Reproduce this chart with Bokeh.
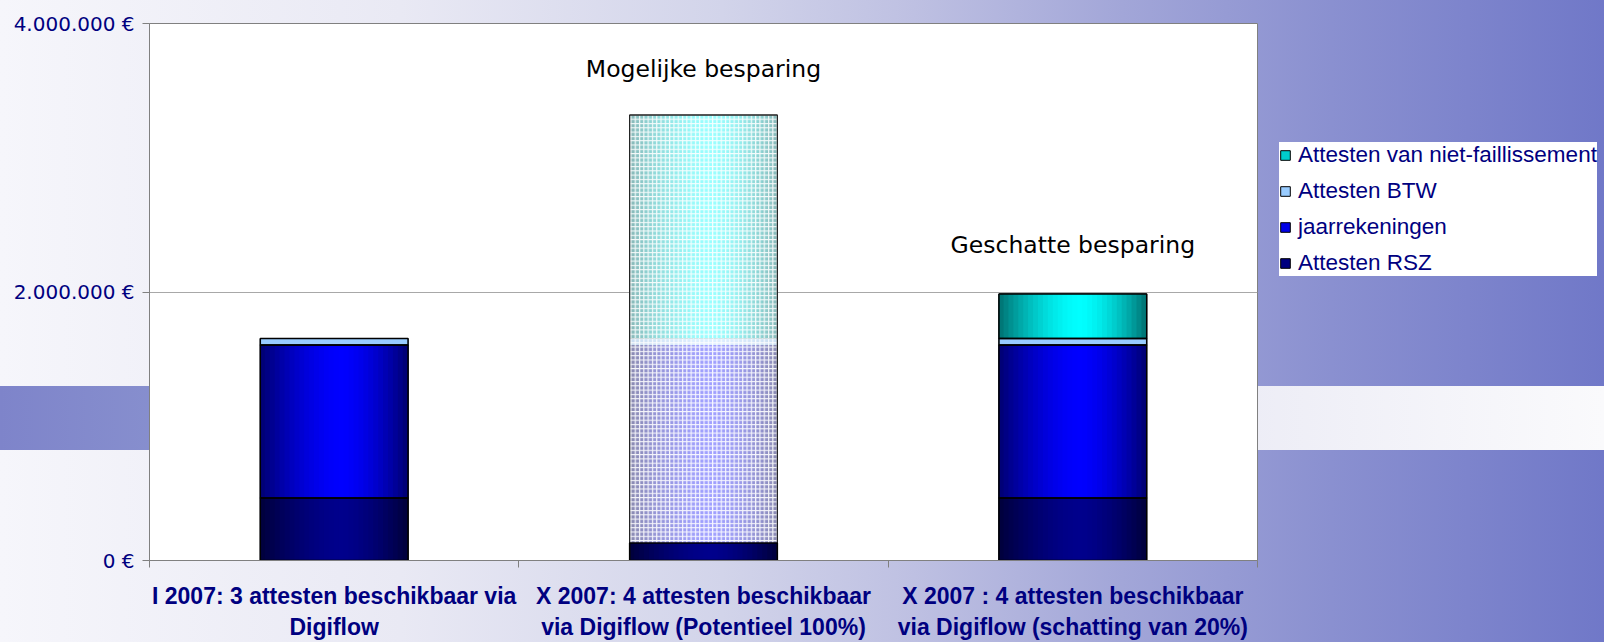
import numpy as np
from bokeh.plotting import figure
from bokeh.layouts import row
from bokeh.models import (ColumnDataSource, FactorRange, Range1d, LinearAxis, CategoricalAxis,
                          FixedTicker, Legend, LegendItem)
from bokeh.core.properties import value
from bokeh.embed import file_html
from bokeh.resources import INLINE

# ---------------- data ----------------
categories = [
    "I 2007: 3 attesten beschikbaar via\nDigiflow",
    "X 2007: 4 attesten beschikbaar\nvia Digiflow (Potentieel 100%)",
    "X 2007 : 4 attesten beschikbaar\nvia Digiflow (schatting van 20%)",
]
series_names = ["Attesten RSZ", "jaarrekeningen", "Attesten BTW", "Attesten van niet-faillissement"]
attesten_rsz = [465000, 130000, 465000]
jaarrekeningen = [1140000, 1475000, 1140000]
attesten_btw = [48000, 48000, 48000]
niet_faillissement = [0, 1665000, 333000]
potential_bar = [False, True, False]          # the hatched "potential" bar
y_ticks = [0, 2000000, 4000000]
y_tick_labels = ["0 €", "2.000.000 €", "4.000.000 €"]
annotation_texts = ["Mogelijke besparing", "Geschatte besparing"]
annotation_cats = [categories[1], categories[2]]
annotation_values = [3660000, 2350000]

series_values = [attesten_rsz, jaarrekeningen, attesten_btw, niet_faillissement]

# ---------------- styles ----------------
solid_style = {   # edge colour, centre colour, legend colour
    "Attesten RSZ": ("#00003A", "#00008C", "#000080"),
    "jaarrekeningen": ("#000070", "#0000FF", "#0000E6"),
    "Attesten BTW": ("#99CCFF", "#99CCFF", "#99CCFF"),
    "Attesten van niet-faillissement": ("#007070", "#00FFFF", "#00CCCC"),
}
pattern_style = {
    "Attesten RSZ": None,
    "jaarrekeningen": ("#8A8AB0", "#A0A0FF"),
    "Attesten BTW": ("#C8DCF0", "#DDEEFF"),
    "Attesten van niet-faillissement": ("#88B8B8", "#99FFFF"),
}
BAR_W = 0.4
N_STRIPS = 30


def hex2rgb(h):
    h = h.lstrip("#")
    return np.array([int(h[i:i + 2], 16) for i in (0, 2, 4)], dtype=float)


def mix(c1, c2, t):
    c = hex2rgb(c1) + (hex2rgb(c2) - hex2rgb(c1)) * t
    return "#%02x%02x%02x" % tuple(int(round(v)) for v in c)


p = figure(x_range=FactorRange(factors=categories, range_padding=0),
           y_range=Range1d(0, 4000000),
           width=1258, height=642, output_backend="svg", toolbar_location=None,
           x_axis_location=None,
           min_border_left=149, min_border_right=1, min_border_top=23, min_border_bottom=80,
           background_fill_color="white", border_fill_color=None)
p.outline_line_color = "#808080"
p.outline_line_width = 1

# ---------------- bars ----------------
strip = dict(x=[], bottom=[], top=[], color=[], w=[])
hatch = dict(x=[], bottom=[], top=[])
outline = dict(x=[], bottom=[], top=[])
pot_outline = dict(x=[], bottom=[], top=[])

cum = [0.0] * len(categories)
for name, vals in zip(series_names, series_values):
    base = dict(x=[], bottom=[], top=[])
    for ci, cat in enumerate(categories):
        v = vals[ci]
        if v <= 0:
            continue
        b, t = cum[ci], cum[ci] + v
        cum[ci] = t
        base["x"].append(cat); base["bottom"].append(b); base["top"].append(t)
        patterned = potential_bar[ci] and pattern_style[name] is not None
        edge, centre = (pattern_style[name] if patterned else solid_style[name][:2])
        for i in range(N_STRIPS):
            u = (i + 0.5) / N_STRIPS
            d = (u - 0.55) / 0.55 if u < 0.55 else (u - 0.55) / 0.45
            tt = max(0.0, 1 - abs(d) ** 1.6)
            strip["x"].append((cat, (u - 0.5) * BAR_W))
            strip["bottom"].append(b); strip["top"].append(t)
            strip["color"].append(mix(edge, centre, tt))
            strip["w"].append(BAR_W / N_STRIPS + 0.002)
        if patterned:
            hatch["x"].append(cat); hatch["bottom"].append(b); hatch["top"].append(t)
        else:
            outline["x"].append(cat); outline["bottom"].append(b); outline["top"].append(t)
    p.vbar(x="x", bottom="bottom", top="top", width=BAR_W, source=ColumnDataSource(base),
           fill_color=solid_style[name][2], line_color="black", line_width=1)

for ci, cat in enumerate(categories):
    if potential_bar[ci]:
        pot_outline["x"].append(cat); pot_outline["bottom"].append(0)
        pot_outline["top"].append(cum[ci])

p.vbar(x="x", bottom="bottom", top="top", width="w", source=ColumnDataSource(strip),
       fill_color="color", line_color=None)
p.vbar(x="x", bottom="bottom", top="top", width=BAR_W, source=ColumnDataSource(hatch),
       fill_alpha=0, line_color=None, hatch_pattern="+", hatch_color="white",
       hatch_scale=4.3, hatch_weight=1.2, hatch_alpha=0.9)
p.vbar(x="x", bottom="bottom", top="top", width=BAR_W, source=ColumnDataSource(pot_outline),
       fill_alpha=0, line_color="#202020", line_width=1.2)
p.vbar(x="x", bottom="bottom", top="top", width=BAR_W, source=ColumnDataSource(outline),
       fill_alpha=0, line_color="black", line_width=1.5)

# ---------------- annotations ----------------
p.text(x=annotation_cats, y=annotation_values, text=annotation_texts,
       text_font=value("DejaVu Sans"), text_font_size=value("23.5px"),
       text_align="center", text_baseline="middle", text_color="black")

# ---------------- axes ----------------
p.yaxis.ticker = FixedTicker(ticks=y_ticks)
p.yaxis.major_label_overrides = dict(zip(y_ticks, y_tick_labels))
p.yaxis.minor_tick_line_color = None
p.yaxis.major_tick_in = 0
p.yaxis.major_tick_out = 7
p.yaxis.axis_line_color = "#808080"
p.yaxis.major_tick_line_color = "#808080"
p.yaxis.major_label_text_font = "DejaVu Sans"
p.yaxis.major_label_text_font_size = "20px"
p.yaxis.major_label_text_color = "#000080"
p.yaxis.major_label_standoff = 8

p.ygrid.ticker = FixedTicker(ticks=y_ticks)
p.ygrid.grid_line_color = "#A8A8A8"
p.xgrid.visible = False

# category-boundary tick marks (synthetic coordinates 0..n of the factor range)
tick_axis = LinearAxis(ticker=FixedTicker(ticks=list(range(len(categories) + 1))),
                       major_label_text_font_size="0px", major_label_text_color=None,
                       major_label_standoff=0,
                       major_tick_in=0, major_tick_out=7, minor_tick_line_color=None,
                       axis_line_color="#808080", major_tick_line_color="#808080")
p.add_layout(tick_axis, "below")
cat_axis = CategoricalAxis(axis_line_color=None, major_tick_line_color=None,
                           minor_tick_line_color=None,
                           major_label_text_font="Liberation Sans",
                           major_label_text_font_style="bold",
                           major_label_text_font_size="23px",
                           major_label_text_color="#000080",
                           major_label_standoff=9)
p.add_layout(cat_axis, "below")

# ---------------- legend (in its own panel to the right) ----------------
pl = figure(width=346, height=642, output_backend="svg", toolbar_location=None,
            x_axis_location=None, y_axis_location=None, min_border=0,
            x_range=Range1d(0, 1), y_range=Range1d(0, 1),
            background_fill_color=None, border_fill_color=None, outline_line_color=None)
pl.grid.visible = False
key_renderers = {}
for name in series_names:
    key_renderers[name] = pl.vbar(x=[float("nan")], top=[float("nan")], width=1,
                                  fill_color=solid_style[name][2],
                                  line_color="black", line_width=1)
legend = Legend(items=[LegendItem(label=n, renderers=[key_renderers[n]])
                       for n in reversed(series_names)],
                location=(21, 284), orientation="vertical",
                label_text_font="Liberation Sans", label_text_font_size="22.5px",
                label_text_color="#000080", glyph_width=12, glyph_height=12,
                label_standoff=7, spacing=10, padding=8, margin=0,
                border_line_color=None, background_fill_color="white",
                background_fill_alpha=1.0, label_height=20)
pl.add_layout(legend, "center")

layout = row(p, pl, spacing=0)
layout.styles = {
    "background":
        "linear-gradient(to right, #7E84CA 0%, #878FCE 10%, #C0C2E4 45%, #EDEDF6 78%, #FAFAFC 100%) "
        "0px 386px / 100% 64px no-repeat, "
        "linear-gradient(to right, #F6F6FB 0%, #E9E9F4 25%, #D2D4EA 45%, #BEC0E2 57%, "
        "#A2A6D8 70%, #8A90D0 83%, #7078C8 100%)"
}

open("out.html", "w").write(file_html(layout, INLINE))
